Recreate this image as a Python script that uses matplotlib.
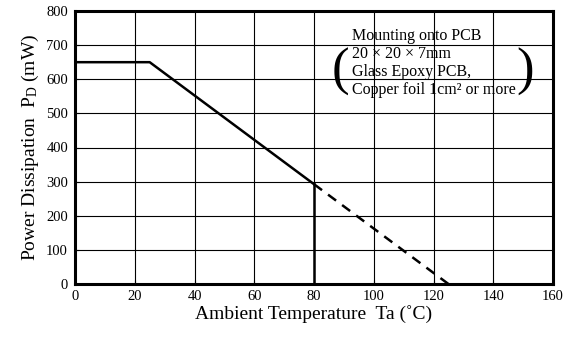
import matplotlib
matplotlib.use('Agg')
import matplotlib.pyplot as plt

plt.rcParams['font.family'] = ['Liberation Serif', 'DejaVu Serif']
plt.rcParams['mathtext.fontset'] = 'custom'
plt.rcParams['mathtext.rm'] = 'Liberation Serif'
plt.rcParams['mathtext.it'] = 'Liberation Serif:italic'

# derating curve
solid_x = [0, 25, 80]
solid_y = [650, 650, 292.5]
dash_x = [80, 125]
dash_y = [292.5, 0]
vert_x = [80, 80]
vert_y = [0, 292.5]

x_ticks = [0, 20, 40, 60, 80, 100, 120, 140, 160]
y_ticks = [0, 100, 200, 300, 400, 500, 600, 700, 800]

note_lines = ['Mounting onto PCB', '20 × 20 × 7mm', 'Glass Epoxy PCB,', 'Copper foil 1cm² or more']

fig = plt.figure(figsize=(5.79, 3.37), dpi=100)
ax = fig.add_axes([75/579, 53/337, 478/579, 273/337])

ax.plot(solid_x, solid_y, color='black', lw=1.8)
ax.plot(dash_x, dash_y, color='black', lw=1.8, ls=(0, (4, 3)))
ax.plot(vert_x, vert_y, color='black', lw=1.8)

ax.set_xlim(0, 160)
ax.set_ylim(0, 800)
ax.set_xticks(x_ticks)
ax.set_yticks(y_ticks)
ax.grid(True, color='black', lw=0.8)
ax.tick_params(direction='in', length=3, width=0.8, labelsize=10.5)
ax.tick_params(axis='y', pad=5)
ax.tick_params(axis='x', pad=4)
for s in ax.spines.values():
    s.set_linewidth(2.2)

ax.set_xlabel('Ambient Temperature  Ta (˚C)', fontsize=14, labelpad=2)
ax.set_ylabel('Power Dissipation  P$_\\mathrm{D}$ (mW)', fontsize=14, labelpad=4)

for i, line in enumerate(note_lines):
    ax.text(92.7, 727 - i * 53, line, fontsize=11.5, va='center', ha='left')
ax.text(89.0, 620, '(', fontsize=38, va='center', ha='center', fontweight='light')
ax.text(150.6, 620, ')', fontsize=38, va='center', ha='center', fontweight='light')

fig.savefig('out.png', dpi=100)
